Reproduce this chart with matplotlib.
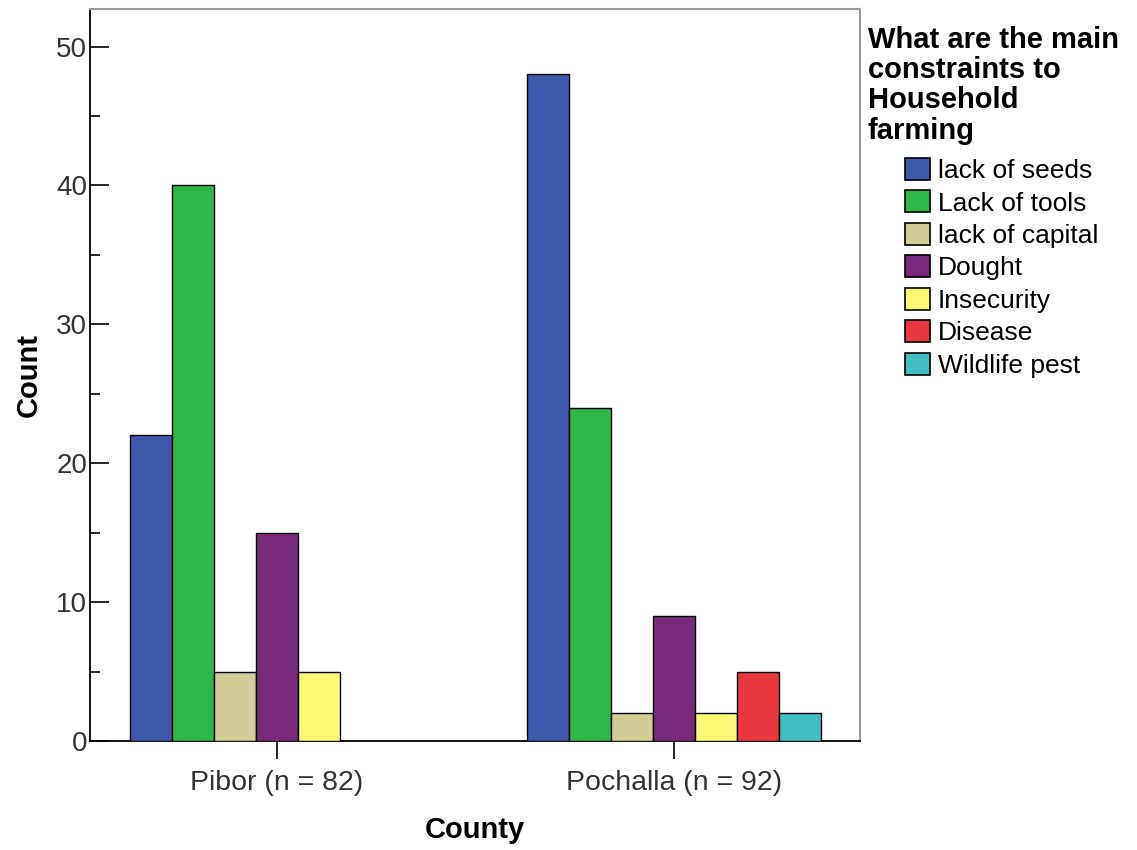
import numpy as np
import matplotlib
matplotlib.use("Agg")
import matplotlib.pyplot as plt
from matplotlib.patches import Patch
from matplotlib.ticker import MultipleLocator

plt.rcParams['font.family'] = ['Liberation Sans', 'DejaVu Sans']

counties = ['Pibor (n = 82)', 'Pochalla (n = 92)']
constraints = ['lack of seeds', 'Lack of tools', 'lack of capital', 'Dought',
               'Insecurity', 'Disease', 'Wildlife pest']
colors = ['#3E58AC', '#2EB848', '#D2CC96', '#7A2A7B', '#FBF873', '#E8373F', '#41BFC1']

# counts per constraint: [Pibor, Pochalla]
lack_of_seeds = [22, 48]
lack_of_tools = [40, 24]
lack_of_capital = [5, 2]
dought = [15, 9]
insecurity = [5, 2]
disease = [0, 5]
wildlife_pest = [0, 2]
series = [lack_of_seeds, lack_of_tools, lack_of_capital, dought,
          insecurity, disease, wildlife_pest]

fig = plt.figure(figsize=(11.37, 8.5), dpi=100)
ax = fig.add_axes([0.0792, 0.1282, 0.6772, 0.8612])

x = np.arange(len(counties))
w = 0.1058
n = len(series)
for i, (vals, c) in enumerate(zip(series, colors)):
    vals = np.array(vals)
    keep = vals > 0
    pos = x + (i - (n - 1) / 2) * w
    ax.bar(pos[keep], vals[keep], width=w, color=c, edgecolor='black', linewidth=1.0, zorder=3)

ax.set_xlim(-0.471, 1.469)
ax.set_ylim(0, 52.7)
ax.set_xticks(x)
ax.set_xticklabels(counties, fontsize=20.5, color='#333333')
ax.yaxis.set_major_locator(MultipleLocator(10))
ax.yaxis.set_minor_locator(MultipleLocator(5))
ax.tick_params(axis='y', which='major', direction='in', length=14, width=1.2,
               labelsize=20, labelcolor='#333333', pad=2)
ax.tick_params(axis='y', which='minor', direction='in', length=7, width=1.2)
ax.tick_params(axis='x', direction='out', length=13, width=1.2, pad=8)

for s in ['left', 'bottom']:
    ax.spines[s].set_color('black')
    ax.spines[s].set_linewidth(1.3)
for s in ['top', 'right']:
    ax.spines[s].set_color('#999999')
    ax.spines[s].set_linewidth(1.5)

ax.set_ylabel('Count', fontsize=21, fontweight='bold', labelpad=10)
ax.set_xlabel('County', fontsize=21, fontweight='bold', labelpad=14)

fig.text(868 / 1137, 1 - 26 / 850, 'What are the main\nconstraints to\nHousehold\nfarming',
         fontsize=21, fontweight='bold', va='top', ha='left', linespacing=1.1)

handles = [Patch(facecolor=c, edgecolor='black', linewidth=1.2) for c in colors]
fig.legend(handles, constraints, loc='upper left', bbox_to_anchor=(905 / 1137, 1 - 158 / 850),
           frameon=False, fontsize=19, handlelength=0.95, handleheight=0.9,
           handletextpad=0.3, labelspacing=0.28, borderaxespad=0, borderpad=0)

fig.savefig('out.png', dpi=100)
